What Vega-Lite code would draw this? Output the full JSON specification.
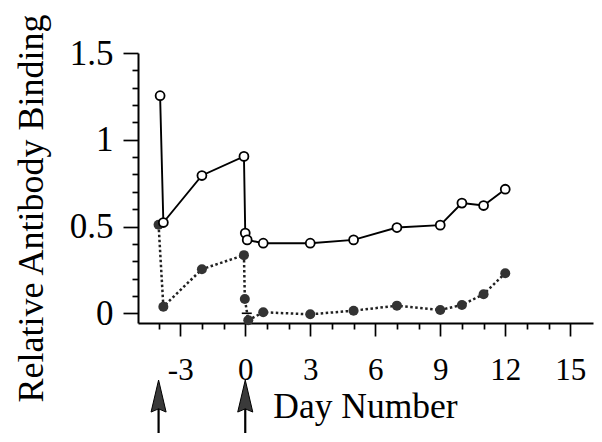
{
  "$schema": "https://vega.github.io/schema/vega-lite/v6.json",
  "width": 455,
  "height": 270,
  "autosize": {"type": "none"},
  "padding": {"left": 138, "top": 53, "right": 9, "bottom": 119},
  "background": "white",
  "config": {"view": {"stroke": null}, "axis": {"labelOverlap": false}},
  "datasets": {
    "binding": [
      {"series": "open", "ord": 1, "day": -3.93, "value": 1.254},
      {"series": "open", "ord": 2, "day": -3.78, "value": 0.523},
      {"series": "open", "ord": 3, "day": -2.0, "value": 0.794},
      {"series": "open", "ord": 4, "day": -0.06, "value": 0.904},
      {"series": "open", "ord": 5, "day": 0.0, "value": 0.462},
      {"series": "open", "ord": 6, "day": 0.09, "value": 0.423},
      {"series": "open", "ord": 7, "day": 0.83, "value": 0.404},
      {"series": "open", "ord": 8, "day": 3.0, "value": 0.404},
      {"series": "open", "ord": 9, "day": 5.0, "value": 0.423},
      {"series": "open", "ord": 10, "day": 7.0, "value": 0.494},
      {"series": "open", "ord": 11, "day": 9.0, "value": 0.508},
      {"series": "open", "ord": 12, "day": 10.0, "value": 0.635},
      {"series": "open", "ord": 13, "day": 11.0, "value": 0.621},
      {"series": "open", "ord": 14, "day": 12.0, "value": 0.715},
      {"series": "filled", "ord": 1, "day": -4.0, "value": 0.51},
      {"series": "filled", "ord": 2, "day": -3.78, "value": 0.038},
      {"series": "filled", "ord": 3, "day": -2.0, "value": 0.254},
      {"series": "filled", "ord": 4, "day": -0.06, "value": 0.335},
      {"series": "filled", "ord": 5, "day": -0.02, "value": 0.0825},
      {"series": "filled", "ord": 6, "day": 0.14, "value": -0.04},
      {"series": "filled", "ord": 7, "day": 0.83, "value": 0.006},
      {"series": "filled", "ord": 8, "day": 3.0, "value": -0.006},
      {"series": "filled", "ord": 9, "day": 5.0, "value": 0.015},
      {"series": "filled", "ord": 10, "day": 7.0, "value": 0.044},
      {"series": "filled", "ord": 11, "day": 9.0, "value": 0.019},
      {"series": "filled", "ord": 12, "day": 10.0, "value": 0.048},
      {"series": "filled", "ord": 13, "day": 11.0, "value": 0.11},
      {"series": "filled", "ord": 14, "day": 12.0, "value": 0.231}
    ],
    "arrows": [
      {"day": -4.0, "value": -0.477, "value2": -0.69},
      {"day": 0.0, "value": -0.477, "value2": -0.69}
    ],
    "bar": [
      {"day": -0.16, "day2": 0.3, "value": 0}
    ]
  },
  "encoding": {
    "x": {
      "field": "day", "type": "quantitative",
      "scale": {"domain": [-4.95, 16.05], "nice": false, "zero": false},
      "axis": {
        "values": [-4, -3, -2, -1, 0, 1, 2, 3, 4, 5, 6, 7, 8, 9, 10, 11, 12, 13, 14, 15],
        "labelExpr": "datum.value % 3 === 0 ? '' + datum.value : ''",
        "tickSize": {"condition": {"test": "datum.value % 3 === 0", "value": 13}, "value": 6},
        "tickColor": "black", "tickWidth": 1.7,
        "domainColor": "black", "domainWidth": 2,
        "grid": false,
        "labelFont": "Liberation Serif", "labelFontSize": 31, "labelColor": "black",
        "labelBaseline": "alphabetic", "labelPadding": 43, "labelOverlap": false, "labelBound": false, "labelFlush": false,
        "title": "Day Number", "titleFont": "Liberation Serif", "titleFontSize": 35.5, "titleFontWeight": "normal",
        "titleColor": "black", "titleX": 227, "titleY": 94, "titleBaseline": "alphabetic", "titleAlign": "center"
      }
    },
    "y": {
      "field": "value", "type": "quantitative",
      "scale": {"domain": [-0.056, 1.5], "nice": false, "zero": false},
      "axis": {
        "values": [0, 0.1, 0.2, 0.3, 0.4, 0.5, 0.6, 0.7, 0.8, 0.9, 1, 1.1, 1.2, 1.3, 1.4, 1.5],
        "labelExpr": "abs(datum.value * 2 - round(datum.value * 2)) < 0.001 ? format(datum.value, '~g') : ''",
        "tickSize": {"condition": {"test": "abs(datum.value * 2 - round(datum.value * 2)) < 0.001", "value": 15}, "value": 6},
        "tickColor": "black", "tickWidth": 1.7,
        "domainColor": "black", "domainWidth": 2,
        "grid": false,
        "labelFont": "Liberation Serif", "labelFontSize": 35, "labelColor": "black",
        "labelPadding": 10, "labelOverlap": false, "labelBound": false, "labelFlush": false,
        "title": "Relative Antibody Binding", "titleFont": "Liberation Serif", "titleFontSize": 36, "titleFontWeight": "normal",
        "titleColor": "black", "titleX": -96, "titleY": 155, "titleAngle": -90, "titleBaseline": "alphabetic", "titleAlign": "center"
      }
    }
  },
  "layer": [
    {
      "data": {"name": "binding"},
      "transform": [{"filter": "datum.series === 'open'"}],
      "mark": {"type": "line", "color": "black", "strokeWidth": 1.9},
      "encoding": {"order": {"field": "ord", "type": "quantitative"}}
    },
    {
      "data": {"name": "binding"},
      "transform": [{"filter": "datum.series === 'filled'"}],
      "mark": {"type": "line", "color": "#222", "strokeWidth": 2.5, "strokeDash": [2.5, 2.5]},
      "encoding": {"order": {"field": "ord", "type": "quantitative"}}
    },
    {
      "data": {"name": "binding"},
      "transform": [{"filter": "datum.series === 'filled'"}],
      "mark": {"type": "point", "shape": "circle", "filled": true, "color": "#333", "opacity": 1, "size": 100},
      "encoding": {}
    },
    {
      "data": {"name": "binding"},
      "transform": [{"filter": "datum.series === 'open'"}],
      "mark": {"type": "point", "shape": "circle", "filled": true, "fill": "white", "stroke": "black", "strokeWidth": 1.8, "opacity": 1, "size": 80},
      "encoding": {}
    },
    {
      "data": {"name": "bar"},
      "mark": {"type": "rule", "color": "black", "strokeWidth": 1.6},
      "encoding": {"x2": {"field": "day2"}}
    },
    {
      "data": {"name": "arrows"},
      "mark": {"type": "rule", "color": "black", "strokeWidth": 2.2},
      "encoding": {"y2": {"field": "value2"}}
    },
    {
      "data": {"name": "arrows"},
      "mark": {"type": "point", "shape": "M0,-1L0.47,1L0,0.8L-0.47,1Z", "filled": true, "color": "#3a3a3a", "stroke": "black", "strokeWidth": 1, "opacity": 1, "size": 1024},
      "encoding": {}
    }
  ]
}
